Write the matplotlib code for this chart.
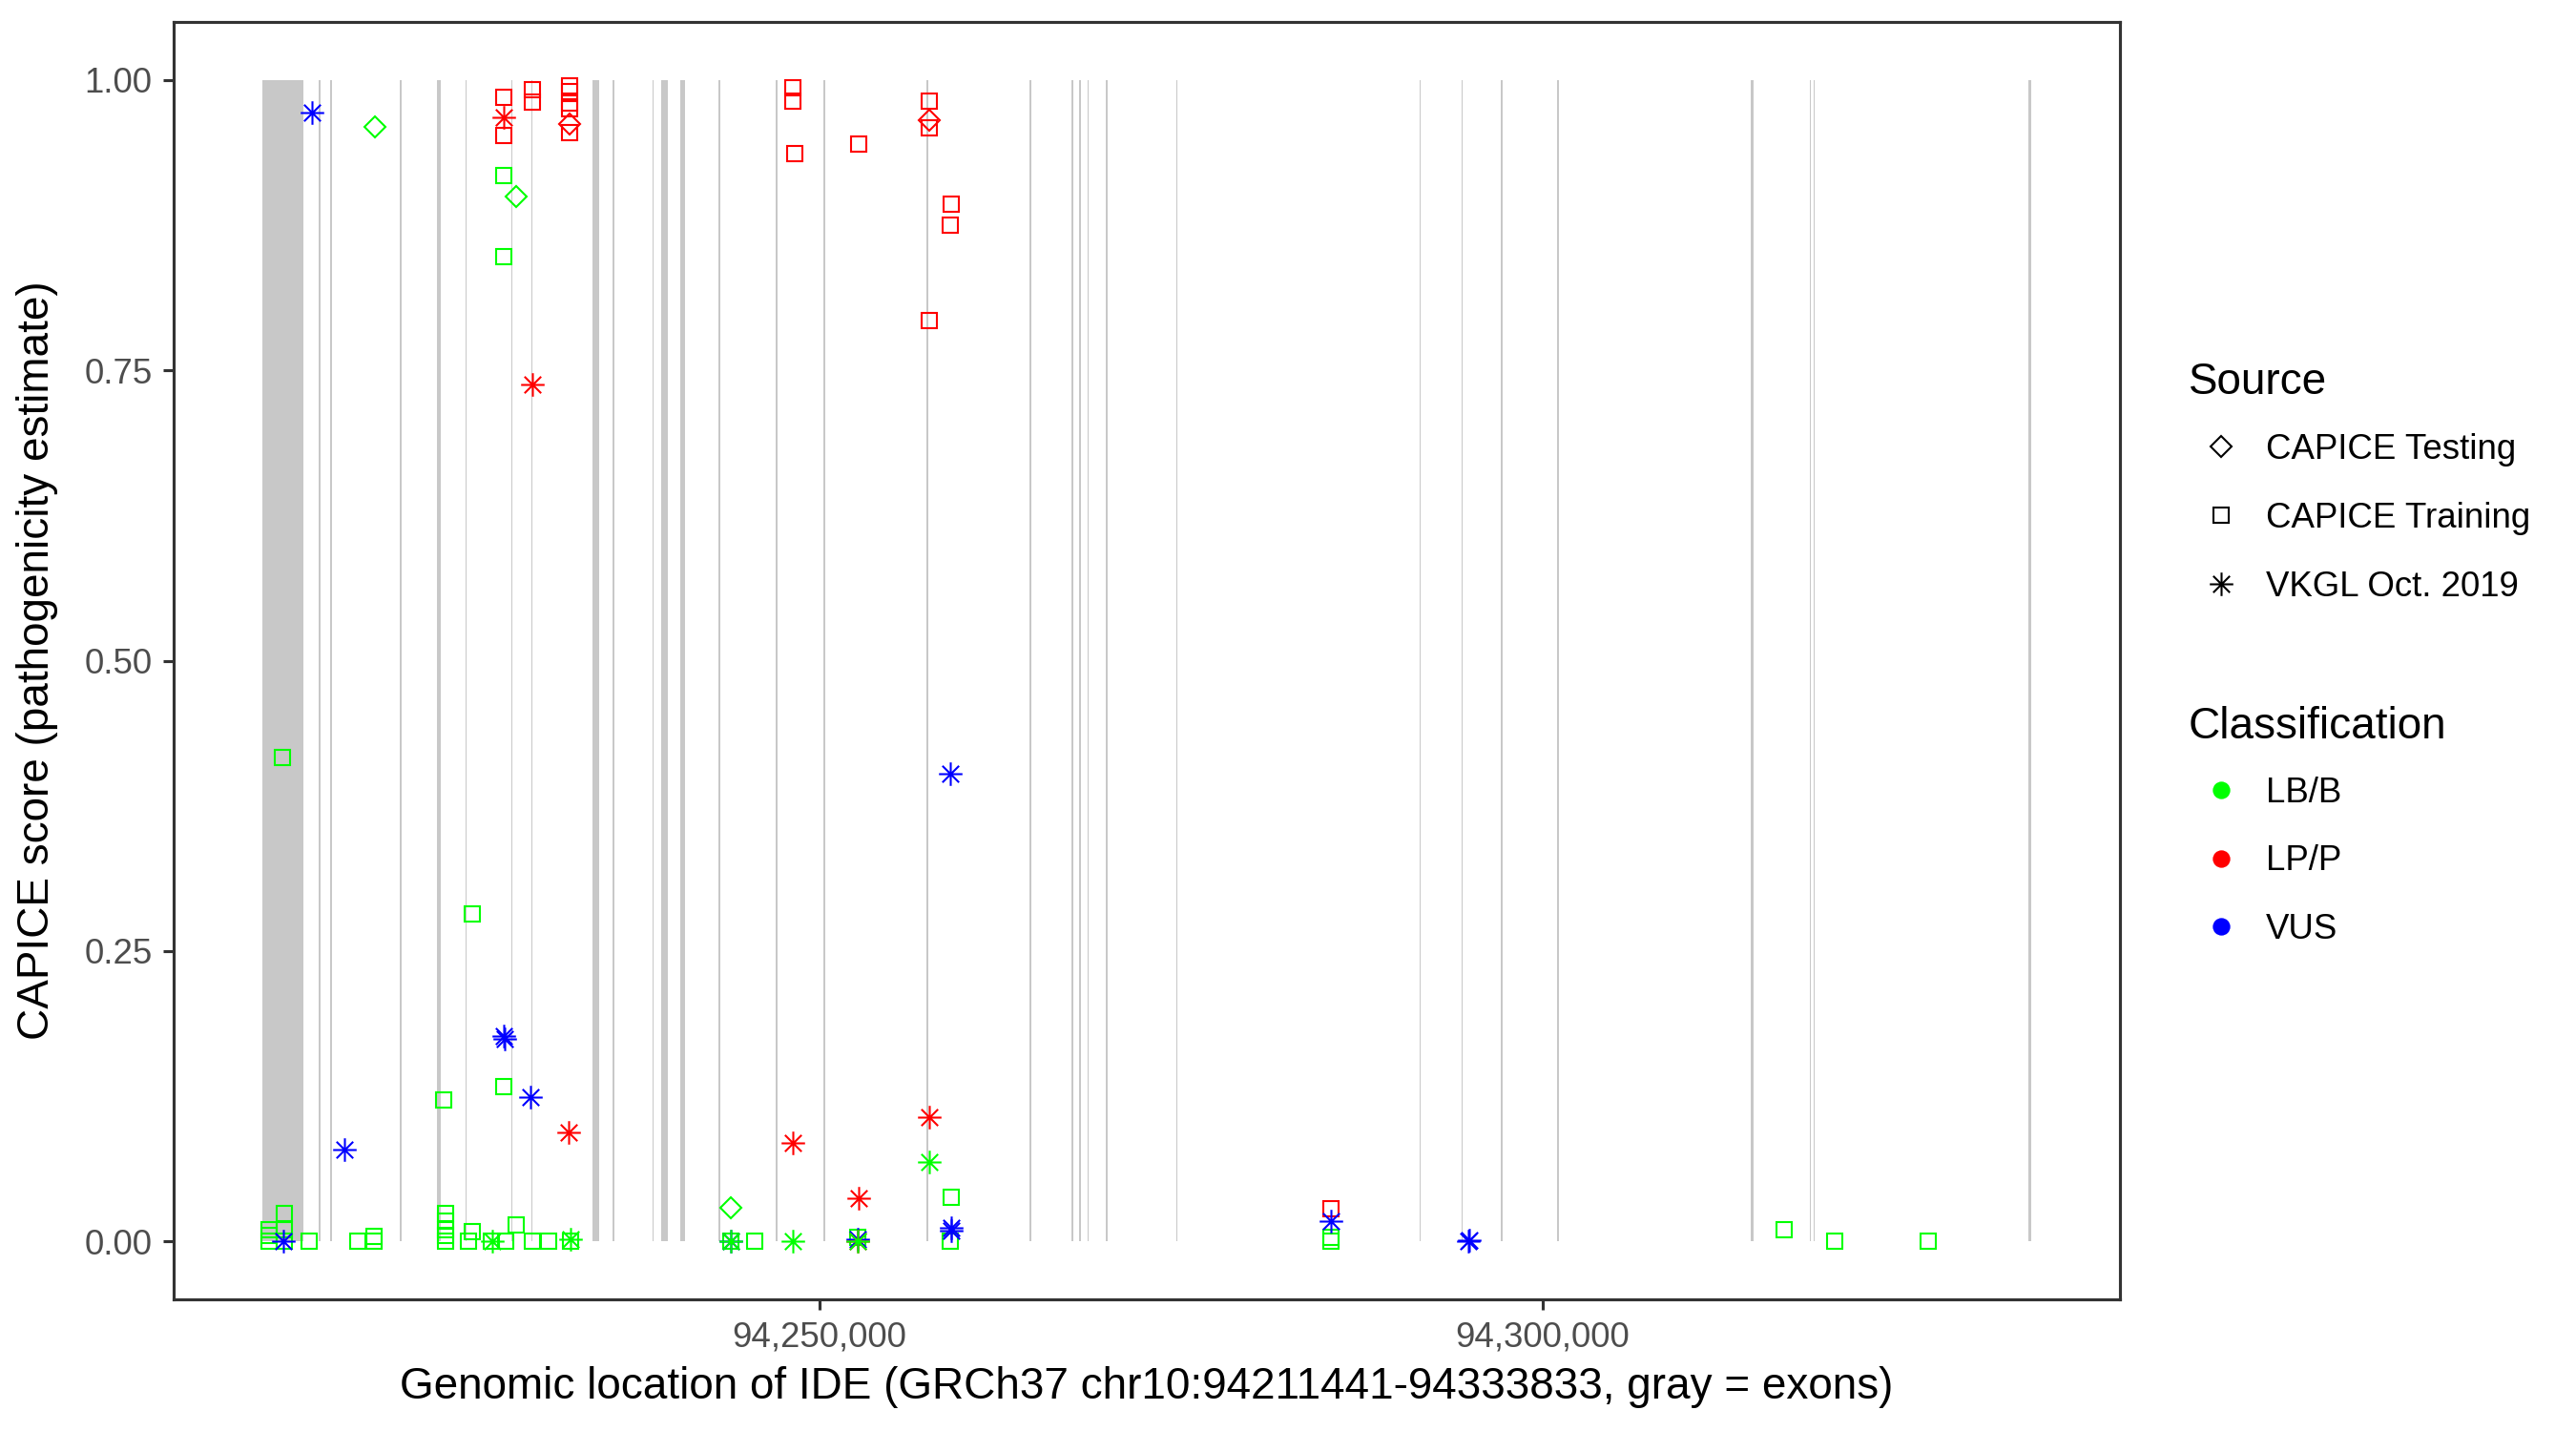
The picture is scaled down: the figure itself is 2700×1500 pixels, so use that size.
import numpy as np
import matplotlib.pyplot as plt
from matplotlib.path import Path
from matplotlib.lines import Line2D
from matplotlib.ticker import FuncFormatter

plt.rcParams['font.family'] = ['Liberation Sans', 'DejaVu Sans']

gene_start = 94211441
gene_end = 94333833

# exons of IDE (gray bars)
exon_start = [94211441, 94215370, 94216170, 94220980, 94223508, 94225500, 94228660,
              94230040, 94234270, 94235690, 94238430, 94239061, 94240379, 94243005,
              94246960, 94250255, 94257410, 94264510, 94267450, 94267955, 94268530,
              94269825, 94274660, 94291500, 94294395, 94297115, 94301035, 94314420,
              94318500, 94318750, 94333650]
exon_end = [94214328, 94215480, 94216280, 94221090, 94223818, 94225610, 94228770,
            94230150, 94234757, 94235800, 94238540, 94239502, 94240688, 94243115,
            94247070, 94250365, 94257520, 94264620, 94267560, 94268065, 94268640,
            94269935, 94274770, 94291610, 94294505, 94297225, 94301145, 94314580,
            94318600, 94318830, 94333833]

# CAPICE Testing
test_pos = [94219271, 94229044, 94243852, 94232734, 94257598]
test_score = [0.960, 0.900, 0.029, 0.962, 0.965]
test_class = ['LB/B', 'LB/B', 'LB/B', 'LP/P', 'LP/P']

# CAPICE Training
train_pos = [94228187, 94228187, 94230163, 94230163, 94232734, 94232734, 94232734,
             94232734, 94232734, 94248155, 94248155, 94248287, 94252722, 94257598,
             94257598, 94257598, 94259140, 94259061, 94285369,
             94212865, 94228187, 94228187, 94225966, 94223989, 94228187,
             94211910, 94211910, 94211910, 94212944, 94212944, 94212944,
             94214724, 94218058, 94219205, 94219205,
             94224101, 94224101, 94224101, 94224101, 94224101,
             94225966, 94225703, 94227330, 94228299, 94229044, 94230118, 94231238,
             94232780, 94243871, 94245519, 94252656, 94259140, 94259061,
             94285369, 94285369, 94316737, 94320249, 94326688]
train_score = [0.985, 0.952, 0.992, 0.981, 0.995, 0.990, 0.980,
               0.975, 0.955, 0.993, 0.982, 0.937, 0.945, 0.982,
               0.959, 0.793, 0.893, 0.875, 0.028,
               0.417, 0.918, 0.848, 0.282, 0.122, 0.133,
               0.0, 0.005, 0.010, 0.024, 0.010, 0.0,
               0.0, 0.0, 0.004, 0.0,
               0.024, 0.017, 0.010, 0.005, 0.0,
               0.008, 0.0, 0.0, 0.0, 0.014, 0.0, 0.0,
               0.0, 0.0, 0.0, 0.003, 0.038, 0.0,
               0.003, 0.0, 0.010, 0.0, 0.0]
train_class = ['LP/P'] * 19 + ['LB/B'] * 39

# VKGL Oct. 2019
vkgl_pos = [94214875, 94228187, 94228230, 94230013, 94217136, 94212900, 94243871,
            94252656, 94259140, 94259100, 94259061, 94285369, 94294878, 94294930,
            94228187, 94230118, 94232622, 94248155, 94252722, 94257598, 94252656,
            94227350, 94232780, 94243871, 94248155, 94252656, 94257598]
vkgl_score = [0.972, 0.177, 0.174, 0.124, 0.079, 0.0, 0.0,
              0.002, 0.012, 0.009, 0.403, 0.017, 0.0, 0.001,
              0.968, 0.738, 0.094, 0.085, 0.037, 0.107, 0.0,
              0.0, 0.002, 0.0, 0.0, 0.0, 0.068]
vkgl_class = ['VUS'] * 14 + ['LP/P'] * 7 + ['LB/B'] * 6

class_names = ['LB/B', 'LP/P', 'VUS']
class_colors = {'LB/B': '#00FF00', 'LP/P': '#FF0000', 'VUS': '#0000FF'}
source_names = ['CAPICE Testing', 'CAPICE Training', 'VKGL Oct. 2019']

# R-style asterisk (shape 8)
d = 0.7071
asterisk = Path([(-1, 0), (1, 0), (0, -1), (0, 1), (-d, -d), (d, d), (-d, d), (d, -d)],
                [Path.MOVETO, Path.LINETO] * 4)

marker_style = {
    'CAPICE Testing': dict(marker='D', ms=3.7),
    'CAPICE Training': dict(marker='s', ms=3.7),
    'VKGL Oct. 2019': dict(marker=asterisk, ms=5.9),
}

W, H = 2700, 1500
fig = plt.figure(figsize=(9, 5), dpi=300)
ax = fig.add_axes([182 / W, 1 - 1362 / H, (2222 - 182) / W, (1362 - 23) / H])

# exons
ax.bar(exon_start, [1.0] * len(exon_start),
       width=np.array(exon_end) - np.array(exon_start),
       align='edge', bottom=0, color='#c8c8c8', linewidth=0, zorder=1)

def draw(pos, score, cls, source):
    pos = np.array(pos)
    score = np.array(score)
    cls = np.array(cls)
    for c in ['VUS', 'LP/P', 'LB/B']:
        m = cls == c
        if m.sum() == 0:
            continue
        ax.plot(pos[m], score[m], linestyle='none', mfc='none', mec=class_colors[c],
                mew=0.5, zorder=3, **marker_style[source])

draw(train_pos, train_score, train_class, 'CAPICE Training')
draw(test_pos, test_score, test_class, 'CAPICE Testing')
draw(vkgl_pos, vkgl_score, vkgl_class, 'VKGL Oct. 2019')

span = gene_end - gene_start
ax.set_xlim(gene_start - 0.05 * span, gene_end + 0.05 * span)
ax.set_ylim(-0.05, 1.05)
ax.set_xticks([94250000, 94300000])
ax.xaxis.set_major_formatter(FuncFormatter(lambda v, p: f'{int(v):,}'))
ax.set_yticks([0, 0.25, 0.5, 0.75, 1.0])
ax.yaxis.set_major_formatter(FuncFormatter(lambda v, p: f'{v:.2f}'))
ax.tick_params(length=2.75, width=0.75, color='#333333', labelcolor='#4d4d4d',
               labelsize=8.8, pad=2.6)
for s in ax.spines.values():
    s.set_color('#333333')
    s.set_linewidth(0.75)

fig.text(1202 / W, 1 - 1466 / H,
         'Genomic location of IDE (GRCh37 chr10:94211441-94333833, gray = exons)',
         ha='center', va='baseline', fontsize=11)
fig.text(39 / W, 1 - 692 / H, 'CAPICE score (pathogenicity estimate)',
         ha='center', va='center', rotation=90, fontsize=11)

# legends
def fx(px):
    return px / W

def fy(py):
    return 1 - py / H

fig.text(fx(2294), fy(413), 'Source', fontsize=11, va='baseline')
for i, name in enumerate(source_names):
    yc = 468 + 72 * i
    fig.add_artist(Line2D([fx(2328)], [fy(yc)], transform=fig.transFigure,
                          linestyle='none', mfc='none', mec='black', mew=0.5,
                          **marker_style[name]))
    fig.text(fx(2375), fy(yc + 13), name, fontsize=8.8, va='baseline')

fig.text(fx(2294), fy(774), 'Classification', fontsize=11, va='baseline')
for i, name in enumerate(class_names):
    yc = 828 + 71.5 * i
    fig.add_artist(Line2D([fx(2328)], [fy(yc)], transform=fig.transFigure,
                          linestyle='none', marker='o', ms=4.4,
                          mfc=class_colors[name], mec='none'))
    fig.text(fx(2375), fy(yc + 13), name, fontsize=8.8, va='baseline')

fig.savefig('out.png', dpi=300)
